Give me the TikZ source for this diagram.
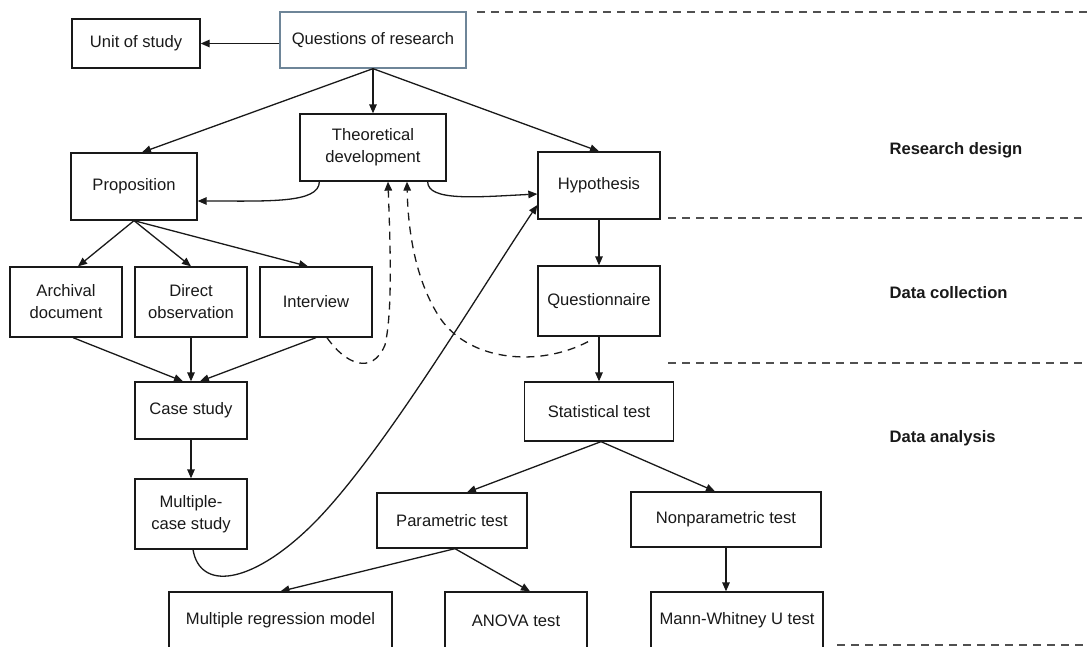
\documentclass[tikz,border=0pt]{standalone}
\usepackage{fontspec}
\setmainfont{Liberation Sans}
\usetikzlibrary{arrows.meta,calc}

\definecolor{ink}{RGB}{25,25,25}
\definecolor{steel}{RGB}{110,133,152}
\definecolor{rule}{RGB}{80,80,80}

\begin{document}
\begin{tikzpicture}[x=1pt,y=-1pt,
  font=\fontsize{16.6}{22}\selectfont,
  box/.style={draw=ink, line width=1.3pt, inner sep=0pt, align=center, text=ink},
  arr/.style={draw=ink, line width=1.3pt, -{Triangle[length=9pt,width=7.5pt]}},
  darr/.style={arr, dash pattern=on 8pt off 6pt},
  sep/.style={draw=rule, line width=1.1pt, dash pattern=on 8pt off 6pt},
  phase/.style={anchor=west, font=\fontsize{16.6}{22}\selectfont\bfseries, text=ink}
]
\useasboundingbox (0,0) rectangle (1088,646);

% phase separators
\draw[sep] (477,12) -- (1088,12);
\draw[sep] (668,218) -- (1088,218);
\draw[sep] (668,363) -- (1088,363);
\draw[sep] (837,645) -- (1088,645);

% phase labels
\node[phase] (rd) at (886,150) {Research design};
\node[phase] (dc) at (886,293) {Data collection};
\node[phase] (da) at (886,438) {Data analysis};

% research design
\node[box, draw=steel, minimum width=186pt, minimum height=56pt] (qor) at (373,40) {Questions of research};
\node[box, minimum width=128pt, minimum height=49pt] (unit) at (136,43.5) {Unit of study};
\node[box, minimum width=146pt, minimum height=67pt] (theo) at (373,147.5) {Theoretical\\development};
\node[box, minimum width=126pt, minimum height=67pt] (prop) at (134,186.5) {Proposition};
\node[box, minimum width=122pt, minimum height=67pt] (hyp) at (599,185.5) {Hypothesis};

% data collection
\node[box, minimum width=112pt, minimum height=70pt] (arch) at (66,302) {Archival\\document};
\node[box, minimum width=112pt, minimum height=70pt] (direct) at (191,302) {Direct\\observation};
\node[box, minimum width=112pt, minimum height=70pt] (inter) at (316,302) {Interview};
\node[box, minimum width=122pt, minimum height=70pt] (quest) at (599,301) {Questionnaire};

% data analysis
\node[box, minimum width=112pt, minimum height=57pt] (case) at (191,410.5) {Case study};
\node[box, minimum width=112pt, minimum height=70pt] (multi) at (191,514) {Multiple-\\case study};
\node[box, minimum width=149pt, minimum height=59pt] (stat) at (599,411.5) {Statistical test};
\node[box, minimum width=150pt, minimum height=55pt] (param) at (452,520.5) {Parametric test};
\node[box, minimum width=190pt, minimum height=55pt] (nonp) at (726,519.5) {Nonparametric test};
\node[box, minimum width=223pt, minimum height=57pt] (mreg) at (280.5,620.5) {Multiple regression model};
\node[box, minimum width=142pt, minimum height=57pt] (anova) at (516,620.5) {ANOVA test};
\node[box, minimum width=172pt, minimum height=57pt] (mann) at (737,620.5) {Mann-Whitney U test};

% connectors from the research questions
\draw[arr] ([yshift=-3.5pt]qor.west) -- (unit.east);
\draw[arr] (qor.south) -- (theo.north);
\draw[arr] (qor.south) -- ([xshift=8pt]prop.north);
\draw[arr] (qor.south) -- (hyp.north);

% theory feeding proposition and hypothesis
\draw[arr] ([xshift=20pt]theo.south west) .. controls +(0,22) and +(70,0) .. ([yshift=-14.5pt]prop.east);
\draw[arr] ([xshift=-19pt]theo.south east) .. controls +(0,20) and +(-60,3) .. ([yshift=-8.5pt]hyp.west);

% proposition to sources of evidence
\draw[arr] (prop.south) -- ([xshift=12pt]arch.north);
\draw[arr] (prop.south) -- (direct.north);
\draw[arr] (prop.south) -- ([xshift=-8pt]inter.north);

% evidence to case study
\draw[arr] ([xshift=7pt]arch.south) -- ([xshift=-8pt]case.north);
\draw[arr] (direct.south) -- (case.north);
\draw[arr] (inter.south) -- ([xshift=9pt]case.north);
\draw[arr] (case.south) -- (multi.north);

% multiple-case study back to hypothesis
\draw[arr] ([xshift=2pt]multi.south) .. controls +(7,41) and (250,585) .. (310,527)
  .. controls (380,459) and (480,290) .. ([yshift=-19.5pt]hyp.west);

% feedback to theory
\draw[darr] ([xshift=11pt]inter.south) .. controls +(18,26) and (372,376) .. (385,345)
  .. controls (393,310) and (390,240) .. ([xshift=15pt]theo.south);
\draw[darr] ([xshift=-11pt,yshift=-5pt]quest.south) .. controls (540,367) and (470,362) .. (440,318)
  .. controls (415,280) and (408,230) .. ([xshift=34pt]theo.south);

% quantitative chain
\draw[arr] (hyp.south) -- (quest.north);
\draw[arr] (quest.south) -- (stat.north);
\draw[arr] ([xshift=2pt]stat.south) -- ([xshift=15pt]param.north);
\draw[arr] ([xshift=2pt]stat.south) -- ([xshift=-11pt]nonp.north);
\draw[arr] ([xshift=3pt]param.south) -- (mreg.north);
\draw[arr] ([xshift=3pt]param.south) -- ([xshift=14pt]anova.north);
\draw[arr] (nonp.south) -- ([xshift=-11pt]mann.north);
\end{tikzpicture}
\end{document}
